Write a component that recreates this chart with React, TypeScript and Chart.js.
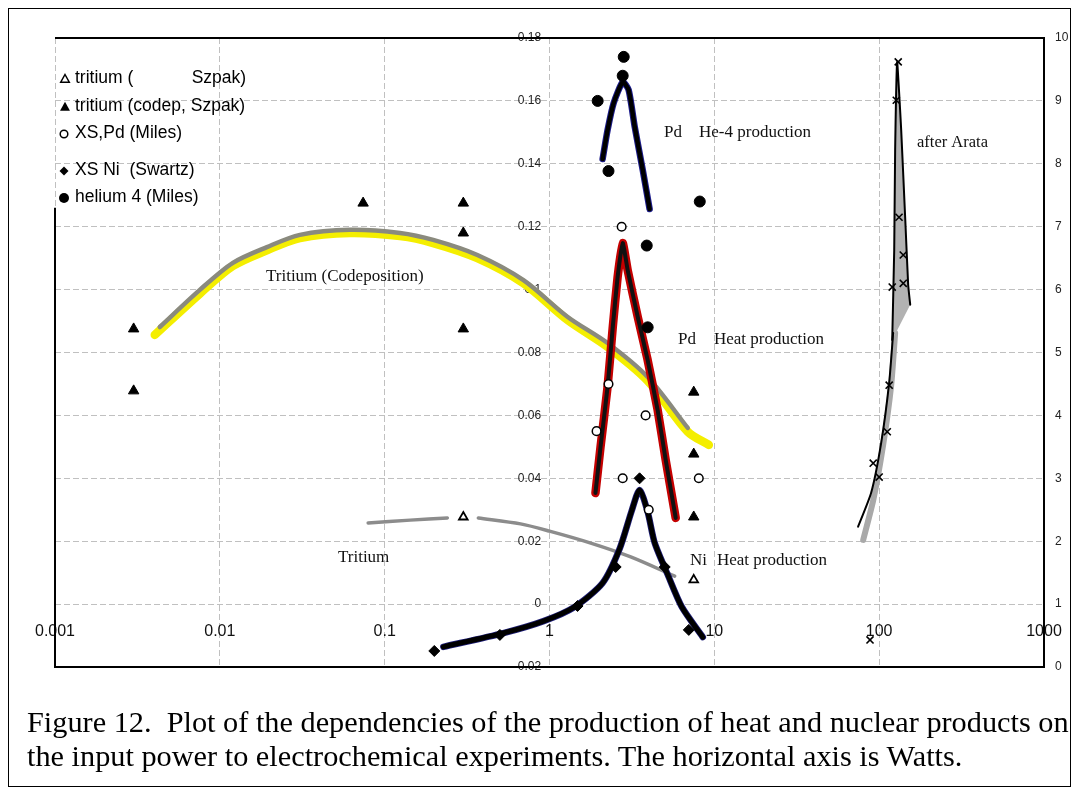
import React, { useEffect, useRef } from 'react';
import { Chart, registerables } from 'chart.js';

Chart.register(...registerables);

// ---- axis ticks ----
const xTickValues = [0.001, 0.01, 0.1, 1, 10, 100, 1000];
const xTickLabels = ['0.001', '0.01', '0.1', '1', '10', '100', '1000'];
const yTickValues = [-0.02, 0, 0.02, 0.04, 0.06, 0.08, 0.1, 0.12, 0.14, 0.16, 0.18];
const yTickLabels = ['-0.02', '0', '0.02', '0.04', '0.06', '0.08', '0.1', '0.12', '0.14', '0.16', '0.18'];
const y2TickValues = [0, 1, 2, 3, 4, 5, 6, 7, 8, 9, 10];
const y2TickLabels = ['0', '1', '2', '3', '4', '5', '6', '7', '8', '9', '10'];

// ---- marker series ----
const tritiumSzpakX = [0.30, 7.5];
const tritiumSzpakY = [0.0277, 0.0077];
const tritiumCodepX = [0.003, 0.003, 0.074, 0.30, 0.30, 0.30, 7.5, 7.5, 7.5];
const tritiumCodepY = [0.0875, 0.0678, 0.1275, 0.1275, 0.118, 0.0875, 0.0674, 0.0477, 0.0277];
const xsPdX = [2.74, 2.28, 1.93, 3.83, 2.78, 8.05, 4.0];
const xsPdY = [0.12, 0.07, 0.055, 0.06, 0.04, 0.04, 0.03];
const xsNiX = [0.20, 0.50, 1.48, 2.52, 3.52, 5.0, 7.0];
const xsNiY = [-0.0149, -0.0098, -0.0006, 0.0118, 0.04, 0.0118, -0.0082];
const helium4X = [2.82, 2.78, 1.96, 2.28, 8.16, 3.89, 3.94];
const helium4Y = [0.174, 0.168, 0.16, 0.1377, 0.128, 0.114, 0.088];
const arataX = [130.5, 127, 132, 140, 120, 140, 115, 112, 92, 100, 88];
const arataY = [9.62, 9.01, 7.15, 6.55, 6.04, 6.1, 4.48, 3.74, 3.24, 3.02, 0.43];

// ---- hand-drawn curves ----
const pdHe4CurveX = [2.10, 2.25, 2.45, 2.78, 3.02, 3.29, 3.68, 4.05];
const pdHe4CurveY = [0.1415, 0.1507, 0.1593, 0.166, 0.1635, 0.1517, 0.138, 0.1256];
const pdHeatCurveX = [1.90, 2.04, 2.25, 2.42, 2.59, 2.78, 2.98, 3.43, 3.94, 4.53, 5.07, 5.83];
const pdHeatCurveY = [0.0353, 0.05, 0.069, 0.0881, 0.104, 0.1148, 0.1062, 0.0913, 0.0776, 0.0617, 0.0458, 0.0274];
const niHeatCurveX = [0.227, 0.525, 0.92, 1.42, 2.10, 2.66, 3.15, 3.52, 3.94, 4.35, 5.22, 6.35, 8.51];
const niHeatCurveY = [-0.0136, -0.0092, -0.0054, -0.0009, 0.0067, 0.0175, 0.0296, 0.0363, 0.0293, 0.0194, 0.0093, -0.0009, -0.0105];
const codepCurveX = [0.00432, 0.00756, 0.012, 0.0193, 0.0306, 0.0617, 0.124, 0.197, 0.365, 0.695, 1.29, 2.25, 3.94, 6.9];
const codepCurveY = [0.0881, 0.0999, 0.1085, 0.1135, 0.1174, 0.119, 0.118, 0.1158, 0.111, 0.103, 0.0913, 0.083, 0.0722, 0.056];
const codepYellowX = [0.00403, 0.00756, 0.012, 0.0193, 0.0306, 0.0617, 0.124, 0.197, 0.365, 0.695, 1.29, 2.25, 3.94, 6.9, 9.26];
const codepYellowY = [0.0856, 0.0987, 0.1075, 0.1125, 0.1164, 0.118, 0.117, 0.1148, 0.11, 0.102, 0.0903, 0.0818, 0.071, 0.0548, 0.0506];
const tritiumLeftX = [0.0794, 0.143, 0.24];
const tritiumLeftY = [0.0258, 0.0267, 0.0274];
const tritiumRightX = [0.37, 0.667, 1.0, 1.78, 3.11, 5.75];
const tritiumRightY = [0.0274, 0.0255, 0.0232, 0.0194, 0.015, 0.0089];
const arataLowerX = [74.5, 89.4, 102.8, 115, 121.6];
const arataLowerY = [2.23, 2.77, 3.56, 4.52, 5.31];
const arataLowerBandX = [80, 92, 105.7, 118.3, 125];
const arataLowerBandY = [2.02, 2.65, 3.53, 4.48, 5.31];
const arataSpikeX = [120, 123.4, 125, 128.6, 136, 144, 150, 154.3];
const arataSpikeY = [5.2, 6.63, 8.22, 9.62, 8.54, 7.11, 6.07, 5.76];

const legendLabels = ['tritium (            Szpak)', 'tritium (codep, Szpak)', 'XS,Pd (Miles)', 'XS Ni  (Swartz)', 'helium 4 (Miles)'];
const captionLines = [
  'Figure 12.  Plot of the dependencies of the production of heat and nuclear products on',
  'the input power to electrochemical experiments. The horizontal axis is Watts.',
];

const pts = (xs: number[], ys: number[]) => xs.map((x, i) => ({ x, y: ys[i] }));

const SANS = '"Liberation Sans", Arial, sans-serif';
const SERIF = '"Liberation Serif", "Times New Roman", serif';

const framePlugin = {
  id: 'frame',
  beforeDatasetsDraw(chart: any) {
    const { ctx, chartArea: a } = chart;
    const yTop = chart.scales.y.getPixelForValue(0.126);
    ctx.save();
    ctx.strokeStyle = '#000';
    ctx.lineWidth = 2;
    ctx.beginPath();
    ctx.moveTo(a.left, yTop);
    ctx.lineTo(a.left, a.bottom);
    ctx.lineTo(a.right, a.bottom);
    ctx.lineTo(a.right, a.top);
    ctx.lineTo(a.left, a.top);
    ctx.stroke();
    ctx.restore();
  },
};

function marker(ctx: CanvasRenderingContext2D, kind: string, x: number, y: number) {
  ctx.save();
  ctx.fillStyle = '#000';
  ctx.strokeStyle = '#000';
  ctx.lineWidth = 1.5;
  ctx.beginPath();
  if (kind === 'triOpen' || kind === 'tri') {
    const r = kind === 'tri' ? 5.2 : 4.5;
    ctx.moveTo(x, y - r);
    ctx.lineTo(x + r * 0.95, y + r * 0.7);
    ctx.lineTo(x - r * 0.95, y + r * 0.7);
    ctx.closePath();
    if (kind === 'tri') ctx.fill(); else ctx.stroke();
  } else if (kind === 'circOpen') {
    ctx.arc(x, y, 3.8, 0, Math.PI * 2);
    ctx.stroke();
  } else if (kind === 'diamond') {
    ctx.moveTo(x, y - 4.5);
    ctx.lineTo(x + 4.5, y);
    ctx.lineTo(x, y + 4.5);
    ctx.lineTo(x - 4.5, y);
    ctx.closePath();
    ctx.fill();
  } else {
    ctx.arc(x, y, 5, 0, Math.PI * 2);
    ctx.fill();
  }
  ctx.restore();
}

const textPlugin = {
  id: 'texts',
  afterDraw(chart: any) {
    const { ctx } = chart;
    ctx.save();
    // legend
    const kinds = ['triOpen', 'tri', 'circOpen', 'diamond', 'circ'];
    const ys = [69, 97, 124, 161, 188];
    const mx = [56, 56, 55, 55, 55];
    ctx.font = `17.5px ${SANS}`;
    ctx.fillStyle = '#000';
    ctx.textBaseline = 'middle';
    ctx.textAlign = 'left';
    legendLabels.forEach((t, i) => {
      marker(ctx, kinds[i], mx[i], ys[i] + 1);
      ctx.fillText(t, 66, ys[i]);
    });
    // annotations
    ctx.font = `17px ${SERIF}`;
    ctx.fillStyle = '#111';
    ctx.fillText('Pd', 655, 124);
    ctx.fillText('He-4 production', 690, 124);
    ctx.fillText('Tritium (Codeposition)', 257, 268);
    ctx.fillText('Pd', 669, 331);
    ctx.fillText('Heat production', 705, 331);
    ctx.fillText('Tritium', 329, 549);
    ctx.fillText('Ni', 681, 552);
    ctx.fillText('Heat production', 708, 552);
    ctx.font = `16.5px ${SERIF}`;
    ctx.fillText('after Arata', 908, 134);
    ctx.restore();
  },
};

const line = (xs: number[], ys: number[], color: string, width: number, extra: any = {}) => ({
  data: pts(xs, ys),
  showLine: true,
  borderColor: color,
  backgroundColor: color,
  borderWidth: width,
  pointRadius: 0,
  tension: 0.3,
  borderCapStyle: 'round',
  borderJoinStyle: 'round',
  ...extra,
});

export default function App() {
  const ref = useRef<HTMLCanvasElement>(null);
  useEffect(() => {
    if (!ref.current) return;
    const gridColor = 'rgba(150,150,150,0.6)';
    const chart = new Chart(ref.current, {
      type: 'scatter',
      data: {
        datasets: [
          { label: 'tritium (Szpak)', data: pts(tritiumSzpakX, tritiumSzpakY), pointStyle: 'triangle', pointRadius: 5, backgroundColor: '#fff', borderColor: '#000', borderWidth: 1.8 },
          { label: 'tritium (codep, Szpak)', data: pts(tritiumCodepX, tritiumCodepY), pointStyle: 'triangle', pointRadius: 6, backgroundColor: '#000', borderColor: '#000', borderWidth: 1 },
          { label: 'XS,Pd (Miles)', data: pts(xsPdX, xsPdY), pointStyle: 'circle', pointRadius: 4.3, backgroundColor: '#fff', borderColor: '#000', borderWidth: 1.5 },
          { label: 'XS Ni (Swartz)', data: pts(xsNiX, xsNiY), pointStyle: 'rectRot', pointRadius: 5.5, backgroundColor: '#000', borderColor: '#000', borderWidth: 1 },
          { label: 'helium 4 (Miles)', data: pts(helium4X, helium4Y), pointStyle: 'circle', pointRadius: 5.5, backgroundColor: '#000', borderColor: '#000', borderWidth: 1 },
          { label: 'Arata', yAxisID: 'y2', data: pts(arataX, arataY), pointStyle: 'crossRot', pointRadius: 5, backgroundColor: '#000', borderColor: '#000', borderWidth: 1.6 },
          line(pdHe4CurveX, pdHe4CurveY, '#000', 4.5, { tension: 0.2 }),
          line(pdHe4CurveX, pdHe4CurveY, '#1c1c8c', 6.5, { tension: 0.2 }),
          line(pdHeatCurveX, pdHeatCurveY, '#111', 4, { tension: 0.15 }),
          line(pdHeatCurveX, pdHeatCurveY, '#c40000', 8.5, { tension: 0.15 }),
          line(niHeatCurveX, niHeatCurveY, '#000', 5, { tension: 0.25 }),
          line(niHeatCurveX, niHeatCurveY, '#1f1f7a', 6.5, { tension: 0.25 }),
          line(arataLowerX, arataLowerY, '#000', 2, { yAxisID: 'y2', tension: 0.2 }),
          line(arataSpikeX, arataSpikeY, '#000', 2, { yAxisID: 'y2', tension: 0.1, fill: 'shape', backgroundColor: '#b2b2b2' }),
          line(arataLowerBandX, arataLowerBandY, '#a9a9a9', 6, { yAxisID: 'y2', tension: 0.2 }),
          line(tritiumLeftX, tritiumLeftY, '#8c8c8c', 3.5),
          line(tritiumRightX, tritiumRightY, '#8c8c8c', 3.5),
          line(codepCurveX, codepCurveY, '#8a8a7e', 4.5),
          line(codepYellowX, codepYellowY, '#f4ee00', 8.5),
        ] as any,
      },
      options: {
        animation: false,
        responsive: false,
        devicePixelRatio: 1,
        events: [],
        layout: { padding: { left: 46, top: 29, right: 0, bottom: 119 } },
        plugins: { legend: { display: false }, tooltip: { enabled: false } },
        scales: {
          x: {
            type: 'logarithmic',
            min: 0.001,
            max: 1000,
            position: { y: 0 } as any,
            afterBuildTicks: (s: any) => { s.ticks = xTickValues.map((v) => ({ value: v })); },
            afterFit: (s: any) => { s.paddingLeft = 0; s.paddingRight = 0; s.paddingTop = 0; s.paddingBottom = 0; },
            ticks: {
              callback: (_v: any, i: number) => xTickLabels[i],
              font: { family: SANS, size: 16 },
              color: '#111',
              padding: 18,
              maxRotation: 0,
              autoSkip: false,
            },
            grid: { color: gridColor, lineWidth: 1, drawTicks: false },
            border: { display: false, dash: [6, 3] },
          },
          y: {
            type: 'linear',
            min: -0.02,
            max: 0.18,
            position: { x: 0.89 } as any,
            afterBuildTicks: (s: any) => { s.ticks = yTickValues.map((v) => ({ value: v })); },
            afterFit: (s: any) => { s.paddingLeft = 0; s.paddingRight = 0; s.paddingTop = 0; s.paddingBottom = 0; },
            ticks: {
              callback: (_v: any, i: number) => yTickLabels[i],
              font: { family: SANS, size: 12 },
              color: '#222',
              padding: 0,
              autoSkip: false,
            },
            grid: { color: gridColor, lineWidth: 1, drawTicks: false },
            border: { display: false, dash: [6, 3] },
          },
          y2: {
            type: 'linear',
            min: 0,
            max: 10,
            position: 'right',
            afterBuildTicks: (s: any) => { s.ticks = y2TickValues.map((v) => ({ value: v })); },
            afterFit: (s: any) => { s.width = 26; },
            ticks: {
              callback: (_v: any, i: number) => y2TickLabels[i],
              font: { family: SANS, size: 12 },
              color: '#222',
              padding: 11,
              autoSkip: false,
            },
            grid: { display: false, drawTicks: false },
            border: { display: false },
          },
        },
      } as any,
      plugins: [framePlugin, textPlugin],
    });
    return () => chart.destroy();
  }, []);

  return (
    <div style={{ position: 'relative', width: 1063, height: 779, border: '1px solid #000', boxSizing: 'border-box', background: '#fff' }}>
      <canvas ref={ref} width={1061} height={777} style={{ position: 'absolute', left: 0, top: 0, width: 1061, height: 777 }} />
      <div style={{ position: 'absolute', left: 18, top: 696, fontFamily: SERIF, fontSize: 30.3, lineHeight: '34px', whiteSpace: 'pre', color: '#000' }}>
        {captionLines.join('\n')}
      </div>
    </div>
  );
}
